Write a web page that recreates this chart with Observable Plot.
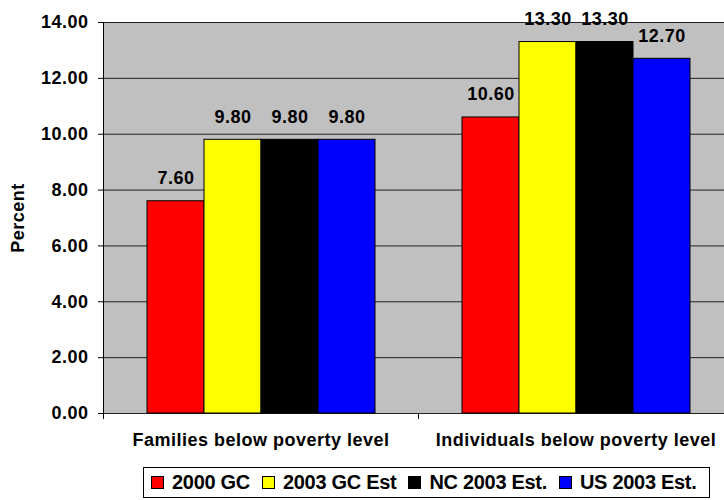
<!DOCTYPE html>
<html>
<head>
<meta charset="utf-8">
<script src="https://cdn.jsdelivr.net/npm/d3@7"></script>
<script src="https://cdn.jsdelivr.net/npm/@observablehq/plot@0.6"></script>
<style>
  html, body { margin: 0; padding: 0; background: #fff; overflow: hidden; }
  #wrap { position: relative; width: 724px; height: 500px; font-family: "Liberation Sans", Arial, sans-serif; }
  #wrap svg { display: block; }
  .legend {
    position: absolute; left: 143px; top: 467px; width: 567px; height: 31px;
    box-sizing: border-box; border: 1px solid #000; background: #fff;
    display: flex; align-items: center; padding-left: 7px;
    font-weight: bold; font-size: 20px; letter-spacing: -0.3px; color: #000; white-space: nowrap;
  }
  .item { display: flex; align-items: center; margin-right: 12px; }
  .sw { width: 13px; height: 13px; box-sizing: border-box; border: 1px solid #000; margin-right: 8px; }
</style>
</head>
<body>
<div id="wrap"></div>
<script>
// Poverty rates (percent) by area and year
const categories = ["Families below poverty level", "Individuals below poverty level"];
const series = ["2000 GC", "2003 GC Est", "NC 2003 Est.", "US 2003 Est."];
const colors = ["#ff0000", "#ffff00", "#000000", "#0000ff"];
const familiesValues = [7.6, 9.8, 9.8, 9.8];
const individualsValues = [10.6, 13.3, 13.3, 12.7];
const yTicks = [0, 2, 4, 6, 8, 10, 12, 14];

const rows = [familiesValues, individualsValues].flatMap((vals, i) =>
  series.map((s, j) => ({category: categories[i], series: s, value: vals[j]}))
);

const W = 724, H = 460;
const mLeft = 103, mRight = -9, mTop = 22, mBottom = 47;
const band = (W - mRight - mLeft) / categories.length;
const font = {fontFamily: "Liberation Sans, Arial, sans-serif", fontWeight: "bold"};

const chart = Plot.plot({
  width: W,
  height: H,
  marginLeft: mLeft,
  marginRight: mRight,
  marginTop: mTop,
  marginBottom: mBottom,
  style: {fontFamily: font.fontFamily, fontSize: "18px", fontWeight: "bold", letterSpacing: "0.5px", color: "#000", background: "#fff"},
  fx: {domain: categories, padding: 0, axis: null},
  x: {domain: series, paddingInner: 0, paddingOuter: 0.74, axis: null},
  y: {domain: [0, 14], axis: null},
  color: {domain: series, range: colors},
  marks: [
    // plot-area background; each group's panel overlaps the next by a pixel so no seam shows
    Plot.frame({fill: "#c0c0c0", insetRight: -1, shapeRendering: "crispEdges"}),
    Plot.ruleY(yTicks, {stroke: "#222", strokeWidth: 1}),
    Plot.barY(rows, {fx: "category", x: "series", y: "value", fill: "series", stroke: "#000", strokeWidth: 1}),
    Plot.text(rows, {
      fx: "category", x: "series", y: "value",
      text: d => d.value.toFixed(2),
      dy: -23, fontSize: 18, ...font, fill: "#000"
    }),
    // value axis line, drawn only beside the first group
    Plot.frame({anchor: "left", facetAnchor: "left", stroke: "#000"}),
    Plot.axisY({
      ticks: yTicks, tickFormat: d => d.toFixed(2), tickSize: 5, tickPadding: 10,
      fontSize: 18, ...font,
      label: "Percent", labelAnchor: "center", labelOffset: 92, labelArrow: "none"
    }),
    // tick marks between the category groups
    Plot.axisFx({anchor: "bottom", tickSize: 6, tickFormat: () => "", dx: -band / 2, label: null}),
    Plot.axisFx({anchor: "bottom", tickSize: 0, tickPadding: 20, fontSize: 18, ...font, label: null})
  ]
});

const wrap = document.getElementById("wrap");
wrap.appendChild(chart);

// legend below the chart
const legend = document.createElement("div");
legend.className = "legend";
series.forEach((s, i) => {
  const item = document.createElement("div");
  item.className = "item";
  const sw = document.createElement("span");
  sw.className = "sw";
  sw.style.background = colors[i];
  const label = document.createElement("span");
  label.textContent = s;
  item.appendChild(sw);
  item.appendChild(label);
  legend.appendChild(item);
});
wrap.appendChild(legend);
</script>
</body>
</html>
